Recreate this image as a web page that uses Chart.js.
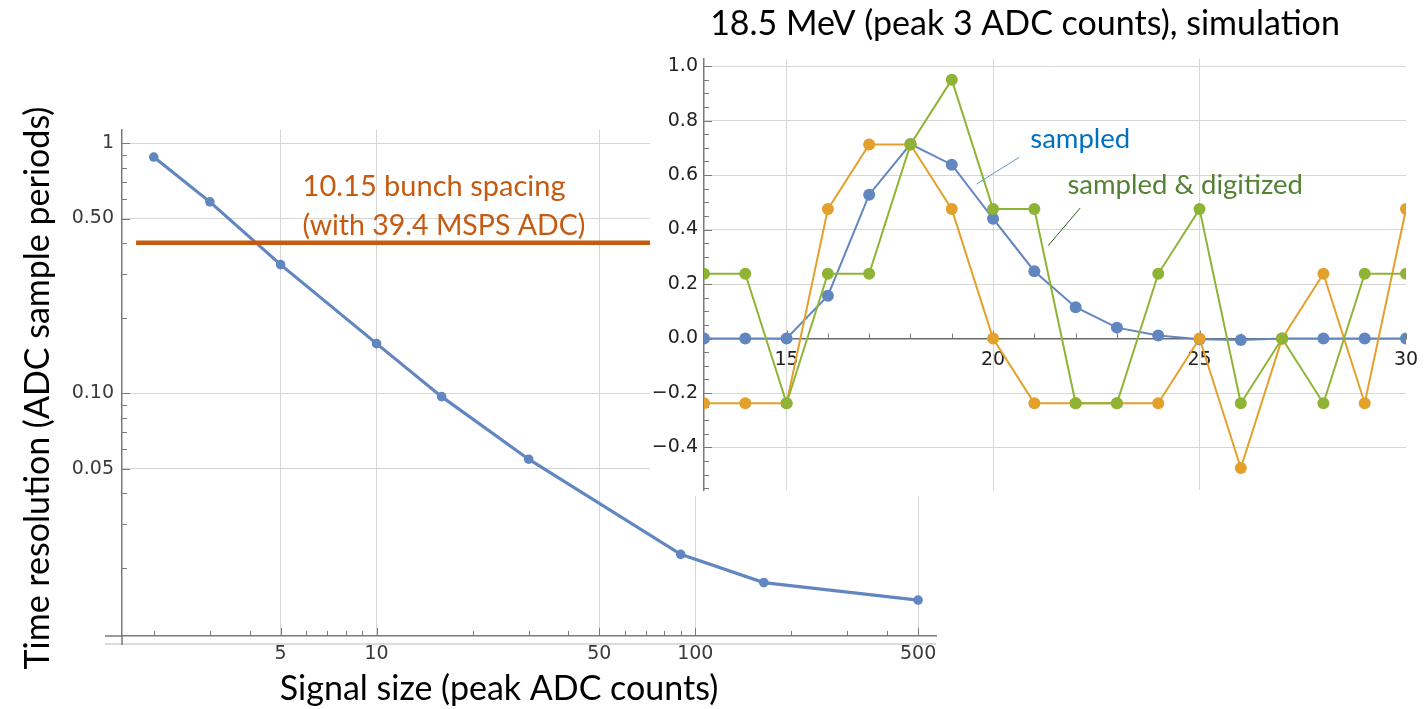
<!DOCTYPE html>
<html>
<head>
<meta charset="utf-8">
<title>Time resolution vs signal size</title>
<script src="https://cdn.jsdelivr.net/npm/chart.js@4.4.1/dist/chart.umd.min.js"></script>
<style>
  body { margin:0; background:#fff; }
  #wrap { position:relative; width:1426px; height:709px; overflow:hidden; }
  #mainChart { position:absolute; left:0; top:0; }
  #insetChart { position:absolute; left:650px; top:0; background:#fff; }
</style>
</head>
<body>
<div id="wrap">
  <canvas id="mainChart" width="1426" height="709"></canvas>
  <canvas id="insetChart" width="776" height="496"></canvas>
</div>
<script>
// main plot: time resolution vs signal size (log-log)
var signalSize = [2, 3, 5, 10, 16, 30, 90, 164, 500];
var timeResolution = [0.881, 0.583, 0.327, 0.158, 0.097, 0.0545, 0.0227, 0.0175, 0.0149];
var bunchSpacing = 0.4;          // 10.15 ns at 39.4 MSPS, in sample periods
var bunchLineX = [1.76, 74];
var xMajor = [5, 10, 50, 100, 500];
var xMinor = [2, 3, 4, 6, 7, 8, 9, 20, 30, 40, 60, 70, 80, 90, 200, 300, 400];
var yMajor = [0.05, 0.1, 0.5, 1];
var yMinor = [0.02, 0.03, 0.04, 0.06, 0.07, 0.08, 0.09, 0.2, 0.3, 0.4, 0.6, 0.7, 0.8, 0.9];
var yMajorLabels = ['0.05', '0.10', '0.50', '1'];

// inset: one pulse, 18.5 MeV simulation
var sampleNo = [13, 14, 15, 16, 17, 18, 19, 20, 21, 22, 23, 24, 25, 26, 27, 28, 29, 30];
var sampled = [0, 0, 0, 0.157, 0.528, 0.714, 0.638, 0.44, 0.247, 0.115, 0.04, 0.011, -0.003, -0.005, 0, 0, 0, 0];
var shifted = [-0.2375, -0.2375, -0.2375, 0.475, 0.7125, 0.7125, 0.475, 0, -0.2375, -0.2375, -0.2375, -0.2375, 0, -0.475, 0, 0.2375, -0.2375, 0.475];
var digitized = [0.2375, 0.2375, -0.2375, 0.2375, 0.2375, 0.7125, 0.95, 0.475, 0.475, -0.2375, -0.2375, 0.2375, 0.475, -0.2375, 0, -0.2375, 0.2375, 0.2375];
var insetXLabels = [15, 20, 25, 30];
var insetXGrid = [15, 20, 25];

var BLUE = '#6286c0', ORANGE = '#e3a02b', GREEN = '#8fb435';
var GRID = '#d6d6d6', AXIS = '#7a7a7a';
var TICKFONT = { family: 'DejaVu Sans', size: 19 };
var BIG = 'Lato, "Open Sans", sans-serif';

function pts(xs, ys) { return xs.map(function(x, i){ return { x: x, y: ys[i] }; }); }
function gridColor(c) { return c.tick && c.tick.major ? GRID : 'rgba(0,0,0,0)'; }

// ticks drawn inside the frame (Mathematica style)
var innerTicks = {
  id: 'innerTicks',
  beforeDatasetsDraw: function(chart){
    var ctx = chart.ctx;
    ctx.save();
    ctx.strokeStyle = AXIS;
    ctx.lineWidth = 1;
    ctx.beginPath();
    Object.keys(chart.scales).forEach(function(id){
      var s = chart.scales[id];
      var pos = s.options.position;
      s.ticks.forEach(function(t){
        var len = t.major ? 8 : 5;
        var p = Math.round(s.getPixelForValue(t.value)) + 0.5;
        if (s.isHorizontal()) {
          var base = typeof pos === 'object' ? chart.scales.y.getPixelForValue(pos.y) : s.top;
          ctx.moveTo(p, base); ctx.lineTo(p, base - len);
        } else {
          ctx.moveTo(s.right, p); ctx.lineTo(s.right + len, p);
        }
      });
    });
    ctx.stroke();
    ctx.restore();
  }
};

// axis lines running a little past the corner, plus the faint frame line under the x axis
var frameCorner = {
  id: 'frameCorner',
  afterDraw: function(chart){
    var a = chart.chartArea, ctx = chart.ctx;
    ctx.save();
    ctx.lineWidth = 1.5;
    ctx.strokeStyle = '#d0d0d0';
    ctx.beginPath(); ctx.moveTo(a.left - 17, a.bottom + 8); ctx.lineTo(a.right, a.bottom + 8); ctx.stroke();
    ctx.strokeStyle = AXIS;
    ctx.beginPath();
    ctx.moveTo(a.left - 17, a.bottom); ctx.lineTo(a.left, a.bottom);
    ctx.moveTo(a.left, a.bottom); ctx.lineTo(a.left, a.bottom + 9);
    ctx.stroke();
    ctx.restore();
  }
};

// free text and leader lines; data:true means x/y are in axis units
function notes(items, leaders) {
  return {
    id: 'notes',
    afterDraw: function(chart){
      var ctx = chart.ctx, sx = chart.scales.x, sy = chart.scales.y;
      (leaders || []).forEach(function(l){
        ctx.save();
        ctx.strokeStyle = l.color; ctx.lineWidth = 1;
        ctx.beginPath();
        ctx.moveTo(sx.getPixelForValue(l.from[0]), sy.getPixelForValue(l.from[1]));
        ctx.lineTo(sx.getPixelForValue(l.to[0]), sy.getPixelForValue(l.to[1]));
        ctx.stroke();
        ctx.restore();
      });
      items.forEach(function(it){
        var x = it.x, y = it.y;
        if (it.data) { x = sx.getPixelForValue(it.x); y = sy.getPixelForValue(it.y); }
        ctx.save();
        ctx.font = it.font; ctx.fillStyle = it.color;
        ctx.textAlign = it.align || 'left'; ctx.textBaseline = 'middle';
        ctx.translate(x, y);
        if (it.rotate) ctx.rotate(it.rotate);
        ctx.fillText(it.text, 0, 0);
        ctx.restore();
      });
    }
  };
}

new Chart(document.getElementById('mainChart'), {
  type: 'line',
  data: {
    datasets: [
      { label: 'bunch spacing', data: pts(bunchLineX, [bunchSpacing, bunchSpacing]), borderColor: '#c55a11', borderWidth: 4.5, pointRadius: 0, order: 0 },
      { label: 'time resolution', data: pts(signalSize, timeResolution), borderColor: BLUE, backgroundColor: BLUE, borderWidth: 3.2, pointRadius: 4.8, pointBorderWidth: 0, order: 1 }
    ]
  },
  options: {
    responsive: false, animation: false,
    layout: { padding: { top: 130, right: 490 } },
    plugins: { legend: { display: false }, tooltip: { enabled: false } },
    scales: {
      x: {
        type: 'logarithmic', min: 1.59, max: 569,
        afterBuildTicks: function(s){
          s.ticks = xMinor.map(function(v){ return { value: v, major: false }; })
            .concat(xMajor.map(function(v){ return { value: v, major: true }; }))
            .sort(function(a, b){ return a.value - b.value; });
        },
        afterFit: function(s){ s.height = 73; },
        grid: { color: gridColor, drawTicks: false },
        border: { color: AXIS, width: 1.5 },
        ticks: { autoSkip: false, maxRotation: 0, padding: 7, color: '#3a3a3a', font: TICKFONT,
          callback: function(v){ return xMajor.indexOf(v) >= 0 ? String(v) : ''; } }
      },
      y: {
        type: 'logarithmic', min: 0.0107, max: 1.13,
        afterBuildTicks: function(s){
          s.ticks = yMinor.map(function(v){ return { value: v, major: false }; })
            .concat(yMajor.map(function(v){ return { value: v, major: true }; }))
            .sort(function(a, b){ return a.value - b.value; });
        },
        afterFit: function(s){ s.width = 122; },
        grid: { color: gridColor, drawTicks: false },
        border: { color: AXIS, width: 1.5 },
        ticks: { autoSkip: false, padding: 8, color: '#3a3a3a', font: TICKFONT,
          callback: function(v){ var i = yMajor.indexOf(v); return i >= 0 ? yMajorLabels[i] : ''; } }
      }
    }
  },
  plugins: [innerTicks, frameCorner, notes([
    { text: 'Time resolution (ADC sample periods)', x: 38, y: 388, rotate: -Math.PI / 2, align: 'center', font: '34px ' + BIG, color: '#000' },
    { text: 'Signal size (peak ADC counts)', x: 499, y: 689, align: 'center', font: '34px ' + BIG, color: '#000' },
    { text: '10.15 bunch spacing', data: true, x: 5.86, y: 0.673, font: '29px ' + BIG, color: '#c55a11' },
    { text: '(with 39.4 MSPS ADC)', data: true, x: 5.86, y: 0.466, font: '28.5px ' + BIG, color: '#c55a11' }
  ])]
});

new Chart(document.getElementById('insetChart'), {
  type: 'line',
  data: {
    datasets: [
      { label: 'sampled & digitized', data: pts(sampleNo, digitized), borderColor: GREEN, backgroundColor: GREEN, borderWidth: 2, pointRadius: 6, pointBorderWidth: 0, clip: 0, order: 1 },
      { label: 'shifted', data: pts(sampleNo, shifted), borderColor: ORANGE, backgroundColor: ORANGE, borderWidth: 2, pointRadius: 6, pointBorderWidth: 0, clip: 0, order: 2 },
      { label: 'sampled', data: pts(sampleNo, sampled), borderColor: BLUE, backgroundColor: BLUE, borderWidth: 2, pointRadius: 6, pointBorderWidth: 0, clip: 0, order: 3 }
    ]
  },
  options: {
    responsive: false, animation: false,
    layout: { padding: { top: 59, right: 20, bottom: 0 } },
    plugins: { legend: { display: false }, tooltip: { enabled: false } },
    scales: {
      x: {
        type: 'linear', min: 13, max: 30, position: { y: 0 },
        afterBuildTicks: function(s){
          s.ticks = [];
          for (var v = 13; v <= 30; v++) s.ticks.push({ value: v, major: insetXGrid.indexOf(v) >= 0 });
        },
        grid: { color: gridColor, drawTicks: true, tickLength: 7, tickColor: 'rgba(0,0,0,0)' },
        border: { color: '#6a6a6a', width: 1.5 },
        ticks: { autoSkip: false, maxRotation: 0, color: '#222', font: TICKFONT,
          callback: function(v){ return insetXLabels.indexOf(v) >= 0 ? String(v) : ''; } }
      },
      y: {
        type: 'linear', min: -0.556, max: 1.026,
        afterBuildTicks: function(s){
          s.ticks = [];
          for (var i = -11; i <= 20; i++) s.ticks.push({ value: i * 0.05, major: i % 4 === 0 });
        },
        afterFit: function(s){ s.width = 54; s.paddingTop = 0; s.paddingBottom = 0; },
        grid: { color: gridColor, drawTicks: false },
        border: { color: AXIS, width: 1.5 },
        ticks: { autoSkip: false, padding: 6, color: '#222', font: TICKFONT,
          callback: function(v, i, ticks){ return ticks[i].major ? v.toFixed(1).replace('-', '\u2212') : ''; } }
      }
    }
  },
  plugins: [innerTicks, notes([
    { text: '18.5 MeV (peak 3 ADC counts), simulation', x: 375, y: 24, align: 'center', font: '34px ' + BIG, color: '#000' },
    { text: 'sampled', data: true, x: 20.9, y: 0.731, font: '27.5px ' + BIG, color: '#0070c0' },
    { text: 'sampled & digitized', data: true, x: 21.8, y: 0.563, font: '27.5px ' + BIG, color: '#548235' }
  ], [
    { from: [19.6, 0.567], to: [20.63, 0.665], color: '#5b9bd5' },
    { from: [21.33, 0.34], to: [22.11, 0.479], color: '#2f5e1f' }
  ])]
});
</script>
</body>
</html>
